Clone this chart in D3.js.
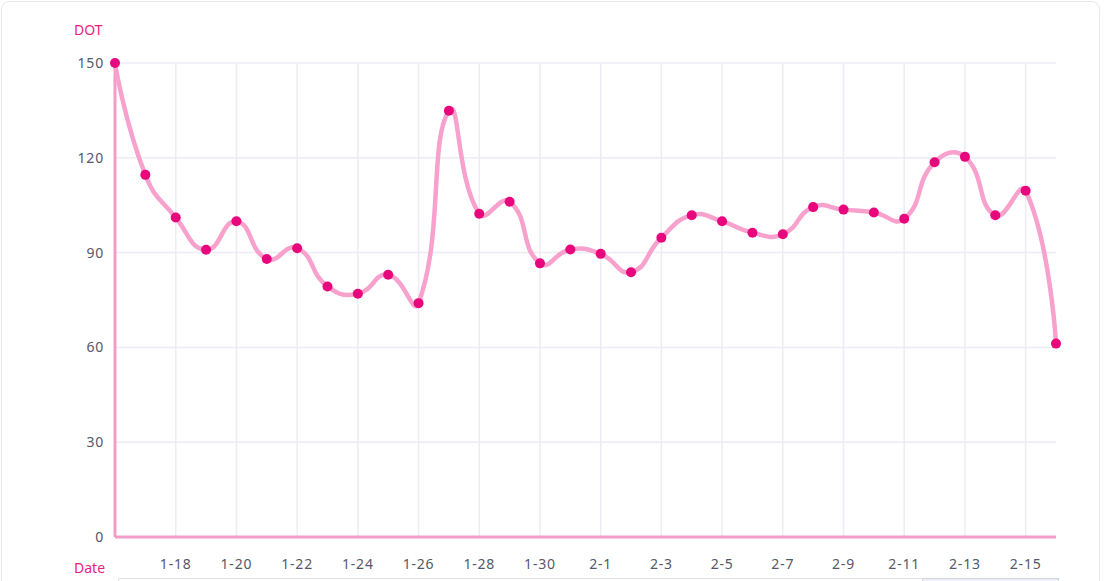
<!DOCTYPE html>
<html>
<head>
<meta charset="utf-8">
<script src="https://cdn.jsdelivr.net/npm/d3@7/dist/d3.min.js"></script>
<style>
  html, body { margin: 0; padding: 0; background: #fff; }
  svg { display: block; font-family: "Noto Sans", sans-serif; }
</style>
</head>
<body>
<svg id="chart" width="1104" height="581"></svg>
<script>
const dates = ['1-16','1-17','1-18','1-19','1-20','1-21','1-22','1-23','1-24','1-25','1-26','1-27','1-28','1-29','1-30','1-31',
  '2-1','2-2','2-3','2-4','2-5','2-6','2-7','2-8','2-9','2-10','2-11','2-12','2-13','2-14','2-15','2-16']
const dotValues = [150, 114.6, 101.1, 90.9, 99.9, 88, 91.4, 79.3, 77, 83, 74, 134.9, 102.3, 106.1, 86.6, 91,
  89.6, 83.8, 94.7, 101.8, 99.9, 96.3, 95.8, 104.4, 103.6, 102.7, 100.7, 118.6, 120.3, 101.8, 109.6, 61.2]
const yTicks = [0, 30, 60, 90, 120, 150]

const svg = d3.select('#chart')
const margin = { top: 63, right: 48, bottom: 44, left: 115 }
const width = 1104, height = 581

// card
svg.append('rect')
  .attr('x', 1.5).attr('y', 1.5)
  .attr('width', 1098).attr('height', 600)
  .attr('rx', 8)
  .attr('fill', '#fff')
  .attr('stroke', '#e6e8ef')

const x = d3.scalePoint()
  .domain(dates)
  .range([margin.left, width - margin.right])

const y = d3.scaleLinear()
  .domain([0, 150])
  .range([height - margin.bottom, margin.top])

const labelIdx = dates.map((d, i) => i).filter(i => i > 0 && i % 2 === 0)

// grid
svg.append('g')
  .selectAll('line')
  .data(yTicks.filter(t => t > 0))
  .enter().append('line')
  .attr('x1', margin.left).attr('x2', width - margin.right)
  .attr('y1', d => y(d)).attr('y2', d => y(d))
  .attr('stroke', '#ececf4').attr('stroke-width', 1.5)

svg.append('g')
  .selectAll('line')
  .data(labelIdx)
  .enter().append('line')
  .attr('x1', i => x(dates[i])).attr('x2', i => x(dates[i]))
  .attr('y1', margin.top).attr('y2', height - margin.bottom)
  .attr('stroke', '#ececf4').attr('stroke-width', 1.5)

// y labels
svg.append('g')
  .selectAll('text')
  .data(yTicks)
  .enter().append('text')
  .attr('x', margin.left - 11)
  .attr('y', d => y(d))
  .attr('dy', '0.35em')
  .attr('text-anchor', 'end')
  .attr('fill', '#545869')
  .style('font-size', '14px')
  .style('letter-spacing', '0.8px')
  .text(d => d)

// x labels
svg.append('g')
  .selectAll('text')
  .data(labelIdx)
  .enter().append('text')
  .attr('x', i => x(dates[i]))
  .attr('y', 569)
  .attr('text-anchor', 'middle')
  .attr('fill', '#545869')
  .style('font-size', '14px')
  .style('letter-spacing', '0.8px')
  .text(i => dates[i])

// axis names
svg.append('clipPath').attr('id', 'topClip')
  .append('rect').attr('x', 0).attr('y', 23).attr('width', width).attr('height', height)

svg.append('text')
  .attr('x', 74).attr('y', 35)
  .attr('clip-path', 'url(#topClip)')
  .attr('fill', '#ec1a82')
  .style('font-size', '14px')
  .text('DOT')

svg.append('text')
  .attr('x', 74).attr('y', 573)
  .attr('fill', '#ec1a82')
  .style('font-size', '14px')
  .text('Date')

// axis lines
svg.append('line')
  .attr('x1', margin.left).attr('x2', margin.left)
  .attr('y1', y(150)).attr('y2', y(0))
  .attr('stroke', '#f49cc8').attr('stroke-width', 3)
svg.append('line')
  .attr('x1', margin.left).attr('x2', width - margin.right)
  .attr('y1', y(0)).attr('y2', y(0))
  .attr('stroke', '#f49cc8').attr('stroke-width', 3)

// smoothed line, echarts style (smooth 0.5)
const pts = dates.map((d, i) => [x(d), y(dotValues[i])])
function smoothPath(p, smooth) {
  const path = d3.path()
  let cp0x = p[0][0], cp0y = p[0][1]
  path.moveTo(p[0][0], p[0][1])
  for (let k = 1; k < p.length; k++) {
    const [px, py] = p[k]
    if (k === p.length - 1) {
      path.bezierCurveTo(cp0x, cp0y, px, py, px, py)
      break
    }
    const prev = p[k - 1], next = p[k + 1]
    const dx = next[0] - prev[0], dy = next[1] - prev[1]
    const lenPrev = Math.hypot(px - prev[0], py - prev[1])
    const lenNext = Math.hypot(px - next[0], py - next[1])
    const ratio = lenNext / (lenNext + lenPrev)
    const cp1x = px - dx * smooth * (1 - ratio)
    const cp1y = py - dy * smooth * (1 - ratio)
    path.bezierCurveTo(cp0x, cp0y, cp1x, cp1y, px, py)
    cp0x = px + dx * smooth * ratio
    cp0y = py + dy * smooth * ratio
  }
  return path.toString()
}

svg.append('path')
  .attr('d', smoothPath(pts, 0.5))
  .attr('fill', 'none')
  .attr('stroke', '#f7a1cc')
  .attr('stroke-width', 4.5)
  .attr('stroke-linejoin', 'round')

svg.append('g')
  .selectAll('circle')
  .data(dotValues)
  .enter().append('circle')
  .attr('cx', (d, i) => x(dates[i]))
  .attr('cy', d => y(d))
  .attr('r', 5)
  .attr('fill', '#e8067c')

// slider at the bottom
svg.append('rect')
  .attr('x', 118.5).attr('y', 578.5)
  .attr('width', 940).attr('height', 20)
  .attr('fill', '#fff').attr('stroke', '#dfe2ea')
svg.append('rect')
  .attr('x', 922.5).attr('y', 578.5)
  .attr('width', 136).attr('height', 20)
  .attr('fill', '#eef0f5').attr('stroke', '#cfd3de')
</script>
</body>
</html>
